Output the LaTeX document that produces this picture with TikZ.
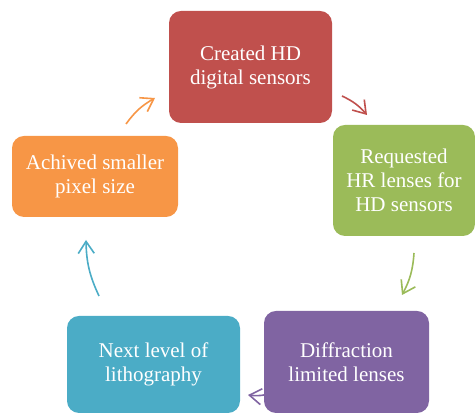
\documentclass[tikz,border=0pt]{standalone}
\usepackage{fontspec}
\setmainfont{Liberation Serif}
\usetikzlibrary{arrows.meta}
\definecolor{boxred}{HTML}{C0504D}
\definecolor{boxgreen}{HTML}{9BBB59}
\definecolor{boxpurple}{HTML}{8064A2}
\definecolor{boxblue}{HTML}{4BACC6}
\definecolor{boxorange}{HTML}{F79646}
\begin{document}
\begin{tikzpicture}[x=1pt,y=1pt,
    stage/.style={rounded corners=12pt, align=center, text=white, inner sep=0pt,
        font=\fontsize{21}{24}\selectfont},
    cyc/.style={-{Straight Barb[length=12pt,width=16pt]}, line width=1.6pt, bend left=12}]
    \useasboundingbox (0,0) rectangle (475,414);

    % Ends of the cycle arrows
    \coordinate (orangetail) at (126,290); \coordinate (orangetip) at (155,316);
    \coordinate (redtail) at (342,318);    \coordinate (redtip) at (367,299);
    \coordinate (greentail) at (414,161);  \coordinate (greentip) at (402,119);
    \coordinate (purpletail) at (272,21);  \coordinate (purpletip) at (248,19);
    \coordinate (bluetail) at (99,118);    \coordinate (bluetip) at (86,174);

    % Cycle arrows (under the boxes)
    \draw[cyc, boxorange] (orangetail) to (orangetip);
    \draw[cyc, boxred] (redtail) to (redtip);
    \draw[cyc, boxgreen] (greentail) to (greentip);
    \draw[cyc, boxpurple] (purpletail) to (purpletip);
    \draw[cyc, boxblue] (bluetail) to (bluetip);

    % Boxes
    \node[stage, fill=boxred, minimum width=163pt, minimum height=112pt] (created) at (250.5,347) {Created HD\\digital sensors};
    \node[stage, fill=boxgreen, minimum width=142pt, minimum height=111pt] (requested) at (404,233.5) {Requested\\HR lenses for\\HD sensors};
    \node[stage, fill=boxpurple, minimum width=165pt, minimum height=102pt] (diffraction) at (346.5,52) {Diffraction\\limited lenses};
    \node[stage, fill=boxblue, minimum width=173pt, minimum height=97pt] (litho) at (153.5,49.5) {Next level of\\lithography};
    \node[stage, fill=boxorange, minimum width=166pt, minimum height=81pt] (pixel) at (95,237.5) {Achived smaller\\pixel size};
\end{tikzpicture}
\end{document}
